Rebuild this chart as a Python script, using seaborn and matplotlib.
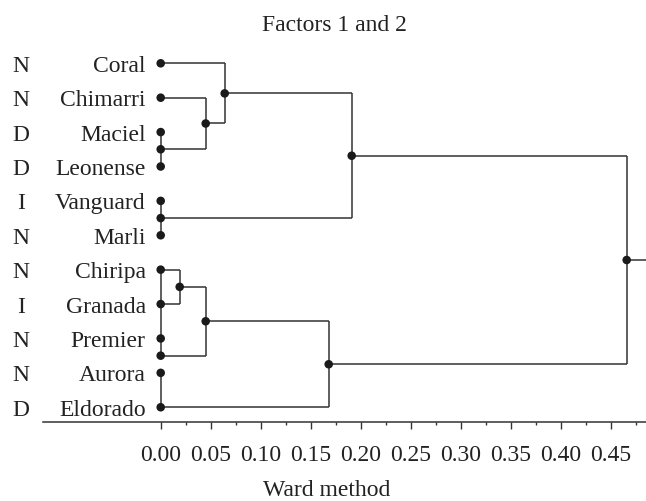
import numpy as np
import pandas as pd
import seaborn as sns
import matplotlib.pyplot as plt
from matplotlib.ticker import FormatStrFormatter

# Leaves, top to bottom, with their group letter
leaves = ['Coral', 'Chimarri', 'Maciel', 'Leonense', 'Vanguard', 'Marli',
          'Chiripa', 'Granada', 'Premier', 'Aurora', 'Eldorado']
groups = ['N', 'N', 'D', 'D', 'I', 'N', 'N', 'I', 'N', 'N', 'D']

# Merges (Ward linkage distance)
merge_nodes = ['n1', 'n2', 'n3', 'n4', 'n5', 'n6', 'n7', 'n8', 'n9', 'n10']
merge_left = ['Maciel', 'Chimarri', 'Coral', 'Vanguard', 'n3',
              'Chiripa', 'Premier', 'n6', 'n8', 'n5']
merge_right = ['Leonense', 'n1', 'n2', 'Marli', 'n4',
               'Granada', 'Aurora', 'n7', 'Eldorado', 'n9']
merge_height = [0.0, 0.045, 0.064, 0.0, 0.191, 0.019, 0.0, 0.045, 0.168, 0.466]

# zero-distance bars drawn along the leaf line
zero_bars = [('Maciel', 'Leonense'), ('Vanguard', 'Marli'),
             ('Chiripa', 'n7'), ('Aurora', 'Eldorado')]

title = 'Factors 1 and 2'
xlabel = 'Ward method'

# ---- positions of leaves and nodes
pos = {name: (0.0, float(i)) for i, name in enumerate(leaves)}
for node, a, b, h in zip(merge_nodes, merge_left, merge_right, merge_height):
    pos[node] = (h, (pos[a][1] + pos[b][1]) / 2)

df_nodes = pd.DataFrame([(k, v[0], v[1]) for k, v in pos.items()],
                        columns=['name', 'height', 'row'])

sns.set_theme(style='white')
plt.rcParams['font.family'] = ['Liberation Serif', 'DejaVu Serif']

fig = plt.figure(figsize=(6.46, 5.02), dpi=100)
ax = fig.add_axes([43 / 646, 79.3 / 502, 603 / 646, 375.6 / 502])

line_kw = dict(color='#333333', lw=1.1, solid_capstyle='butt', zorder=1)

for node, a, b, h in zip(merge_nodes, merge_left, merge_right, merge_height):
    if h == 0:
        continue
    for c in (a, b):
        ax.plot([pos[c][0], h], [pos[c][1], pos[c][1]], **line_kw)
    ax.plot([h, h], [pos[a][1], pos[b][1]], **line_kw)

for a, b in zero_bars:
    ax.plot([0, 0], [pos[a][1], pos[b][1]], **line_kw)

xmin, xmax = -0.1177, 0.4853
root = merge_nodes[-1]
ax.plot([pos[root][0], xmax], [pos[root][1], pos[root][1]], clip_on=False, **line_kw)

sns.scatterplot(data=df_nodes, x='height', y='row', color='#1a1a1a', s=38,
                edgecolor='none', ax=ax, zorder=3, clip_on=False)

fs = 17
for i, (name, grp) in enumerate(zip(leaves, groups)):
    ax.text(-0.015, i + 0.22, name, ha='right', va='baseline', fontsize=fs,
            color='#222222')
    ax.text(-0.1397, i + 0.22, grp, ha='center', va='baseline', fontsize=fs,
            color='#222222', clip_on=False)

ax.set_xlim(xmin, xmax)
ax.set_ylim(10.42, -0.5)
ax.set_xticks(np.arange(0, 0.46, 0.05))
ax.set_xticks(np.arange(0.025, 0.48, 0.05), minor=True)
ax.xaxis.set_major_formatter(FormatStrFormatter('%.2f'))
ax.set_yticks([])
ax.set_xlabel('')
ax.set_ylabel('')
ax.tick_params(axis='x', which='major', length=5, width=1, color='#333333',
               pad=11, labelsize=fs, labelcolor='#222222', bottom=True)
ax.tick_params(axis='x', which='minor', length=2.5, width=1, color='#333333',
               bottom=True)
for s in ['left', 'top', 'right']:
    ax.spines[s].set_visible(False)
ax.spines['bottom'].set_color('#333333')
ax.spines['bottom'].set_linewidth(1.1)
ax.grid(False)

fig.text(334 / 646, 1 - 31 / 502, title, ha='center', va='baseline',
         fontsize=fs, color='#222222')
fig.text(327 / 646, 6 / 502, xlabel, ha='center', va='baseline',
         fontsize=fs, color='#222222')

fig.savefig('out.png', dpi=100)
